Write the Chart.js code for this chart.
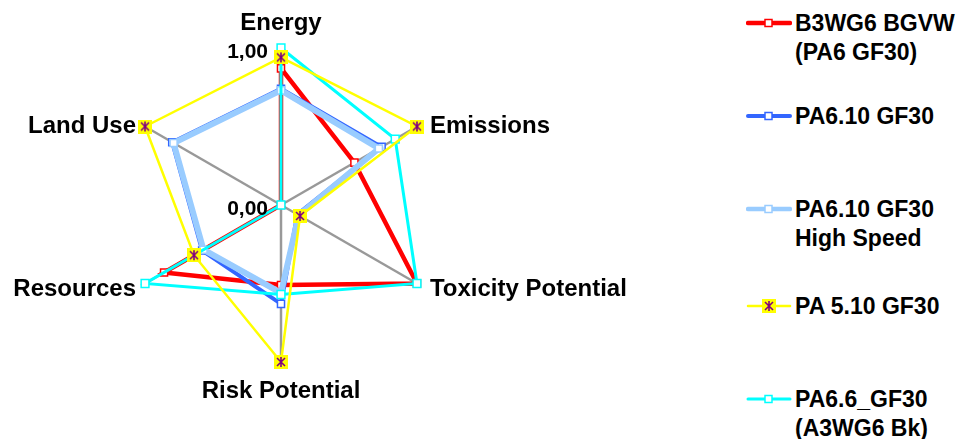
<!DOCTYPE html>
<html>
<head>
<meta charset="utf-8">
<script src="https://cdn.jsdelivr.net/npm/chart.js@4"></script>
<style>
  body { margin: 0; background: #fff; }
  #wrap { position: relative; width: 973px; height: 439px; font-family: "Liberation Sans", Arial, sans-serif; }
  #chart { position: absolute; left: 0; top: 0; }
  .item { position: absolute; left: 746px; font-weight: bold; font-size: 23px; line-height: 29px; color: #000; }
  .item svg { position: absolute; left: 0; }
  .item span { position: absolute; left: 49px; white-space: nowrap; }
</style>
</head>
<body>
<div id="wrap">
  <canvas id="chart" width="730" height="439"></canvas>
  <div id="legend"></div>
</div>
<script>
const categories = ["Energy", "Emissions", "Toxicity Potential", "Risk Potential", "Resources", "Land Use"];
const seriesNames = [
  ["B3WG6 BGVW", "(PA6 GF30)"],
  ["PA6.10 GF30"],
  ["PA6.10 GF30", "High Speed"],
  ["PA 5.10 GF30"],
  ["PA6.6_GF30", "(A3WG6 Bk)"]
];
const b3wg6 = [0.87, 0.54, 1.00, 0.51, 0.86, 0.00];
const pa610 = [0.74, 0.74, 0.12, 0.63, 0.58, 0.80];
const pa610hs = [0.73, 0.72, 0.13, 0.56, 0.57, 0.79];
const pa510 = [0.94, 1.00, 0.14, 1.00, 0.64, 1.00];
const pa66 = [1.00, 0.84, 1.00, 0.57, 1.00, 0.00];
const tickValues = [0, 1];

const colors = ["#ff0000", "#3366ff", "#99ccff", "#ffff00", "#00ffff"];
const widths = [4.5, 4, 6, 2.5, 3];

// yellow square with purple asterisk, like the excel marker
function starMarker(size) {
  const c = document.createElement("canvas");
  c.width = size; c.height = size;
  const g = c.getContext("2d");
  g.fillStyle = "#ffff00";
  g.fillRect(0, 0, size, size);
  g.strokeStyle = "#800080";
  g.lineWidth = 1.6;
  const m = 3;
  g.beginPath();
  g.moveTo(m, m); g.lineTo(size - m, size - m);
  g.moveTo(size - m, m); g.lineTo(m, size - m);
  g.moveTo(size / 2, m - 1); g.lineTo(size / 2, size - m + 1);
  g.stroke();
  return c;
}
const star = starMarker(14);

const data = [b3wg6, pa610, pa610hs, pa510, pa66];
const order = [5, 4, 3, 1, 2];

const datasets = data.map((d, i) => ({
  label: seriesNames[i].join(" "),
  data: d,
  borderColor: colors[i],
  borderWidth: widths[i],
  backgroundColor: "#ffffff",
  fill: false,
  tension: 0,
  order: order[i],
  pointStyle: i === 3 ? star : "rect",
  pointRadius: i === 4 ? 5.5 : 5,
  pointBorderWidth: 1.5,
  pointBackgroundColor: "#ffffff",
  pointBorderColor: colors[i]
}));

// labels at the spoke ends, placed like the excel ones
const labelPos = [
  { dx: 0, dy: -25, align: "center" },
  { dx: 13, dy: 0, align: "left" },
  { dx: 13, dy: 6, align: "left" },
  { dx: 0, dy: 29, align: "center" },
  { dx: -9, dy: 6, align: "right" },
  { dx: -9, dy: 0, align: "right" }
];

const labelPlugin = {
  id: "labels",
  afterDraw(chart) {
    const s = chart.scales.r;
    const ctx = chart.ctx;
    ctx.save();
    ctx.fillStyle = "#000";
    ctx.font = 'bold 24px "Liberation Sans", Arial, sans-serif';
    ctx.textBaseline = "middle";
    categories.forEach((c, i) => {
      const p = s.getPointPosition(i, s.drawingArea);
      const lp = labelPos[i];
      ctx.textAlign = lp.align;
      ctx.fillText(c, p.x + lp.dx, p.y + lp.dy);
    });
    ctx.textAlign = "right";
    ctx.font = 'bold 21px "Liberation Sans", Arial, sans-serif';
    tickValues.forEach(v => {
      const p = s.getPointPositionForValue(0, v);
      ctx.fillText(v.toFixed(2).replace(".", ","), p.x - 13, p.y + 4);
    });
    ctx.restore();
  }
};

new Chart(document.getElementById("chart"), {
  type: "radar",
  data: { labels: categories, datasets },
  options: {
    responsive: false,
    animation: false,
    layout: { padding: { left: 124, top: 48, right: 292, bottom: 77 } },
    plugins: { legend: { display: false }, tooltip: { enabled: false } },
    scales: {
      r: {
        min: 0,
        max: 1,
        ticks: { display: false, stepSize: 1 },
        grid: { display: false },
        angleLines: { color: "#999999", lineWidth: 2.5 },
        pointLabels: { display: false }
      }
    }
  },
  plugins: [labelPlugin]
});

// legend on the right
const legendY = [23, 116, 209, 306, 399];
const legend = document.getElementById("legend");
seriesNames.forEach((lines, i) => {
  const el = document.createElement("div");
  el.className = "item";
  el.style.top = (legendY[i] - 14) + "px";
  let mark;
  if (i === 3) {
    mark = '<rect x="16" y="7" width="14" height="14" fill="#ffff00"/>' +
      '<path d="M19 10 L27 18 M27 10 L19 18 M23 9 L23 19" stroke="#800080" stroke-width="1.6"/>';
  } else {
    mark = '<rect x="19" y="10.5" width="7" height="7" fill="#fff" stroke="' + colors[i] + '" stroke-width="1.5"/>';
  }
  el.innerHTML = '<svg width="46" height="28"><line x1="2" y1="14" x2="44" y2="14" stroke="' + colors[i] +
    '" stroke-width="' + Math.min(widths[i], 4.5) + '" stroke-linecap="round"/>' + mark + '</svg>' +
    '<span>' + lines.join("<br>") + '</span>';
  legend.appendChild(el);
});
</script>
</body>
</html>
